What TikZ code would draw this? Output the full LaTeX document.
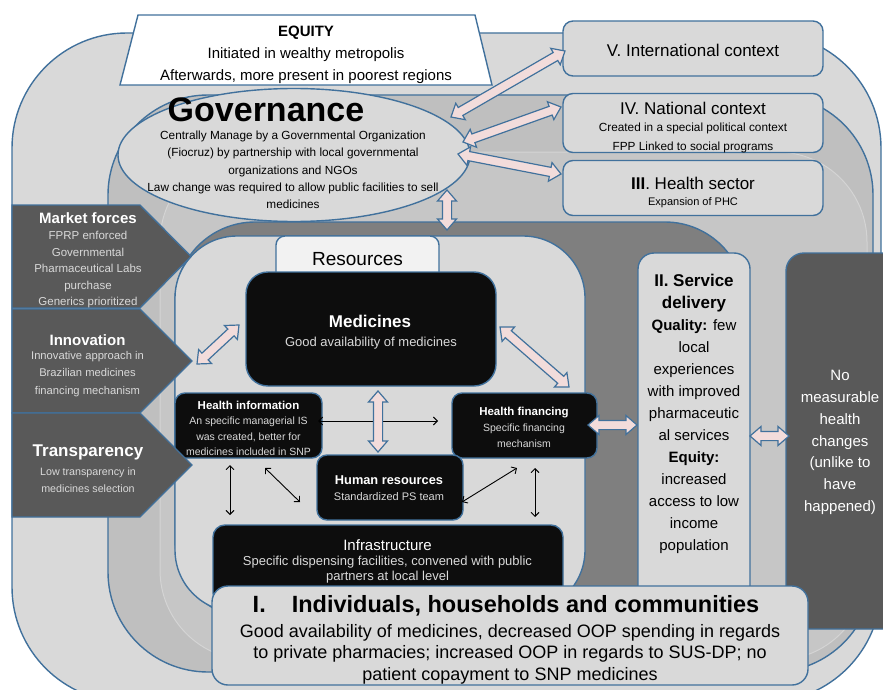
\documentclass[tikz,border=0pt]{standalone}
\usepackage{fontspec}
\setmainfont{Liberation Sans}
\usetikzlibrary{shapes.geometric,calc,arrows.meta}
\definecolor{bl}{HTML}{41719C}
\definecolor{lg}{HTML}{D9D9D9}
\definecolor{mg}{HTML}{BFBFBF}
\definecolor{mgb}{HTML}{C6C6C6}
\definecolor{fl}{HTML}{D4D4D4}
\definecolor{dg}{HTML}{7F7F7F}
\definecolor{dk}{HTML}{595959}
\definecolor{bk}{HTML}{0D0D0D}
\definecolor{pk}{HTML}{F2DCDB}
\definecolor{wt}{HTML}{F2F2F2}
\newcommand{\fsz}[2]{\fontsize{#1}{#2}\selectfont}
\newcommand{\parrow}[2]{%
 \draw[pinkarr] (#1)
  -- ($(#1)!11pt!(#2)!9.5pt!90:(#2)$)
  -- ($(#1)!11pt!(#2)!4.6pt!90:(#2)$)
  -- ($(#2)!11pt!(#1)!4.6pt!-90:(#1)$)
  -- ($(#2)!11pt!(#1)!9.5pt!-90:(#1)$)
  -- (#2)
  -- ($(#2)!11pt!(#1)!9.5pt!90:(#1)$)
  -- ($(#2)!11pt!(#1)!4.6pt!90:(#1)$)
  -- ($(#1)!11pt!(#2)!4.6pt!-90:(#2)$)
  -- ($(#1)!11pt!(#2)!9.5pt!-90:(#2)$)
  -- cycle;}
\begin{document}
\begin{tikzpicture}[x=1pt,y=-1pt,
  bord/.style={draw=bl,line width=1.4pt},
  lbox/.style={bord,rectangle,inner sep=0pt,fill=lg},
  blk/.style={bord,rectangle,inner sep=0pt,fill=bk,rounded corners=12pt},
  txt/.style={align=center,inner sep=0pt},
  wtxt/.style={txt,text=white},
  gtxt/.style={txt,text=lg},
  pinkarr/.style={draw=bl,line width=1.2pt,fill=pk,line join=miter},
  blarrow/.style={draw=black,line width=0.9pt,{Straight Barb[length=4pt,width=8pt]}-{Straight Barb[length=4pt,width=8pt]}},
  pent/.style={bord,fill=dk}
]
\useasboundingbox (0,0) rectangle (883,690);
\begin{scope}
\clip (0,0) rectangle (883,690);
% nested background layers
\draw[bord,fill=lg,rounded corners=115pt] (12,33) rectangle (881,702);
\draw[bord,fill=mg,rounded corners=100pt] (108,95) rectangle (873,672);
\draw[draw=fl,line width=1pt,fill=mgb,rounded corners=90pt] (160,152) rectangle (867,660);
\draw[bord,fill=dg,rounded corners=80pt] (175,222) rectangle (745,620);

% resources
\node[lbox,rounded corners=62pt,minimum width=410,minimum height=376] (res) at (380,424) {};
\node[bord,fill=wt,rounded corners=9pt,minimum width=163,minimum height=46,inner sep=0pt,font=\fsz{19}{22}] (reslbl) at (357.5,259) {Resources};

\node[blk,rounded corners=22pt,minimum width=250,minimum height=114] (med) at (371,329) {};
\node[wtxt,font=\fsz{17}{20}\bfseries] (medt) at (370,321) {Medicines};
\node[gtxt,font=\fsz{13}{15}] (medd) at (371,343) {Good availability of medicines};

\node[blk,rounded corners=10pt,minimum width=147,minimum height=65] (hi) at (248.5,425.5) {};
\node[wtxt,font=\fsz{11.5}{14}\bfseries] (hit) at (248.5,405) {Health information};
\node[gtxt,font=\fsz{10.5}{15.7}] (hid) at (248.5,436.5) {An specific managerial IS\\was created, better for\\medicines included in SNP};

\node[blk,rounded corners=10pt,minimum width=145,minimum height=65] (hf) at (524.5,425.5) {};
\node[wtxt,font=\fsz{11.5}{14}\bfseries] (hft) at (524,413) {Health financing};
\node[gtxt,font=\fsz{10.5}{15.7}] (hfd) at (524,436) {Specific financing\\mechanism};

\node[blk,rounded corners=10pt,minimum width=146,minimum height=65] (hr) at (390,487.5) {};
\node[wtxt,font=\fsz{12.8}{15}\bfseries] (hrt) at (389,480) {Human resources};
\node[gtxt,font=\fsz{11}{13}] (hrd) at (389,497) {Standardized PS team};

\node[blk,rounded corners=12pt,minimum width=350,minimum height=80] (inf) at (388,565) {};
\node[wtxt,font=\fsz{15}{17}] (inft) at (387.5,545) {Infrastructure};
\node[gtxt,font=\fsz{13}{15.5}] (infd) at (387.5,569.5) {Specific dispensing facilities, convened with public\\partners at local level};

% service delivery and outcome
\node[lbox,rounded corners=16pt,minimum width=112,minimum height=350] (sd) at (694,428) {};
\node[txt,font=\fsz{15}{22}] (sdt) at (694,413.5) {{\fsz{17}{22}\bfseries II. Service}\\{\fsz{17}{22}\bfseries delivery}\\\textbf{Quality:} few\\local\\experiences\\with improved\\pharmaceutic\\al services\\\textbf{Equity:}\\increased\\access to low\\income\\population};

\node[bord,rectangle,fill=dk,rounded corners=18pt,minimum width=120,minimum height=376] (nm) at (846,441) {};
\node[wtxt,font=\fsz{15}{21.8}] (nmt) at (840,442.5) {No\\measurable\\health\\changes\\(unlike to\\have\\happened)};

% individuals
\node[lbox,rounded corners=16pt,minimum width=596,minimum height=99] (ind) at (510,635.5) {};
\node[txt,font=\fsz{23.5}{26}\bfseries] (indt) at (506,606) {I.\hspace{26pt}Individuals, households and communities};
\node[txt,font=\fsz{18}{21.5}] (indd) at (510,654) {Good availability of medicines, decreased OOP spending in regards\\to private pharmacies; increased OOP in regards to SUS-DP; no\\patient copayment to SNP medicines};

% left pentagons
\draw[pent] (12,205) -- (140,205) -- (191,256.5) -- (140,308) -- (12,308) -- cycle;
\draw[pent] (12,309) -- (140,309) -- (192,361) -- (140,413) -- (12,413) -- cycle;
\draw[pent] (12,413) -- (140,413) -- (192,465) -- (140,517) -- (12,517) -- cycle;
\node[wtxt,font=\fsz{15}{17}\bfseries] (mft) at (88,218) {Market forces};
\node[gtxt,font=\fsz{11.5}{16.5}] (mfd) at (88,270) {FPRP enforced\\Governmental\\Pharmaceutical Labs\\purchase\\Generics prioritized};
\node[wtxt,font=\fsz{15}{17}\bfseries] (inn) at (87.5,340) {Innovation};
\node[gtxt,font=\fsz{11.2}{17.5}] (innd) at (87.5,374) {Innovative approach in\\Brazilian medicines\\financing mechanism};
\node[wtxt,font=\fsz{17}{19}\bfseries] (tr) at (88,452) {Transparency};
\node[gtxt,font=\fsz{10.7}{16.5}] (trd) at (88,480) {Low transparency in\\medicines selection};

% governance
\node[ellipse,bord,fill=lg,minimum width=352,minimum height=133,inner sep=0pt] (gov) at (294,155) {};
\node[txt,font=\fsz{34}{38}\bfseries] (govt) at (266,110) {Governance};
\node[txt,font=\fsz{11.8}{17.3}] (govd) at (293,170) {Centrally Manage by a Governmental Organization\\(Fiocruz) by partnership with local governmental\\organizations and NGOs\\Law change was required to allow public facilities to sell\\medicines};

% equity
\draw[bord,fill=white] (138,15) -- (475,15) -- (492,85) -- (120,85) -- cycle;
\node[txt,font=\fsz{15}{22}] (eq) at (306,55) {\textbf{EQUITY}\\Initiated in wealthy metropolis\\Afterwards, more present in poorest regions};

% contexts
\node[lbox,rounded corners=10pt,minimum width=260,minimum height=55] (intl) at (693,48.5) {};
\node[txt,font=\fsz{17}{20}] (intlt) at (693,50) {V. International context};
\node[lbox,rounded corners=10pt,minimum width=260,minimum height=59] (natl) at (693,123) {};
\node[txt,font=\fsz{17}{20}] (natlt) at (693,108) {IV. National context};
\node[txt,font=\fsz{11.8}{19}] (natld) at (693,137.5) {Created in a special political context\\FPP Linked to social programs};
\node[lbox,rounded corners=10pt,minimum width=260,minimum height=55] (hs) at (693,188) {};
\node[txt,font=\fsz{17}{20}] (hst) at (693,183) {\textbf{III}. Health sector};
\node[txt,font=\fsz{11}{13}] (hsd) at (693,203) {Expansion of PHC};

% thin black arrows
\coordinate (a1) at (318,421); \coordinate (b1) at (438,421);
\coordinate (a2) at (230,465); \coordinate (b2) at (230,515);
\coordinate (a3) at (265,468); \coordinate (b3) at (300,502);
\coordinate (a4) at (517,468); \coordinate (b4) at (462,502);
\coordinate (a5) at (535,468); \coordinate (b5) at (535,517);
\draw[blarrow] (a1) -- (b1);
\draw[blarrow] (a2) -- (b2);
\draw[blarrow] (a3) -- (b3);
\draw[blarrow] (a4) -- (b4);
\draw[blarrow] (a5) -- (b5);

% pink double arrows
\coordinate (g1) at (451,117); \coordinate (v1) at (565,51);
\coordinate (g2) at (463,142); \coordinate (n1) at (561,107);
\coordinate (g3) at (458,154); \coordinate (h1) at (561,174);
\coordinate (g4) at (447,190); \coordinate (r4) at (447,230);
\coordinate (i5) at (197,364); \coordinate (m5) at (239,325);
\coordinate (m6) at (500,327); \coordinate (f6) at (569,387);
\coordinate (m7) at (378,391); \coordinate (h7) at (378,452);
\coordinate (f8) at (588,425); \coordinate (s8) at (637,425);
\coordinate (s9) at (750,436); \coordinate (d9) at (789,436);
\parrow{g1}{v1}
\parrow{g2}{n1}
\parrow{g3}{h1}
\parrow{g4}{r4}
\parrow{i5}{m5}
\parrow{m6}{f6}
\parrow{m7}{h7}
\parrow{f8}{s8}
\parrow{s9}{d9}
\end{scope}
\end{tikzpicture}
\end{document}
